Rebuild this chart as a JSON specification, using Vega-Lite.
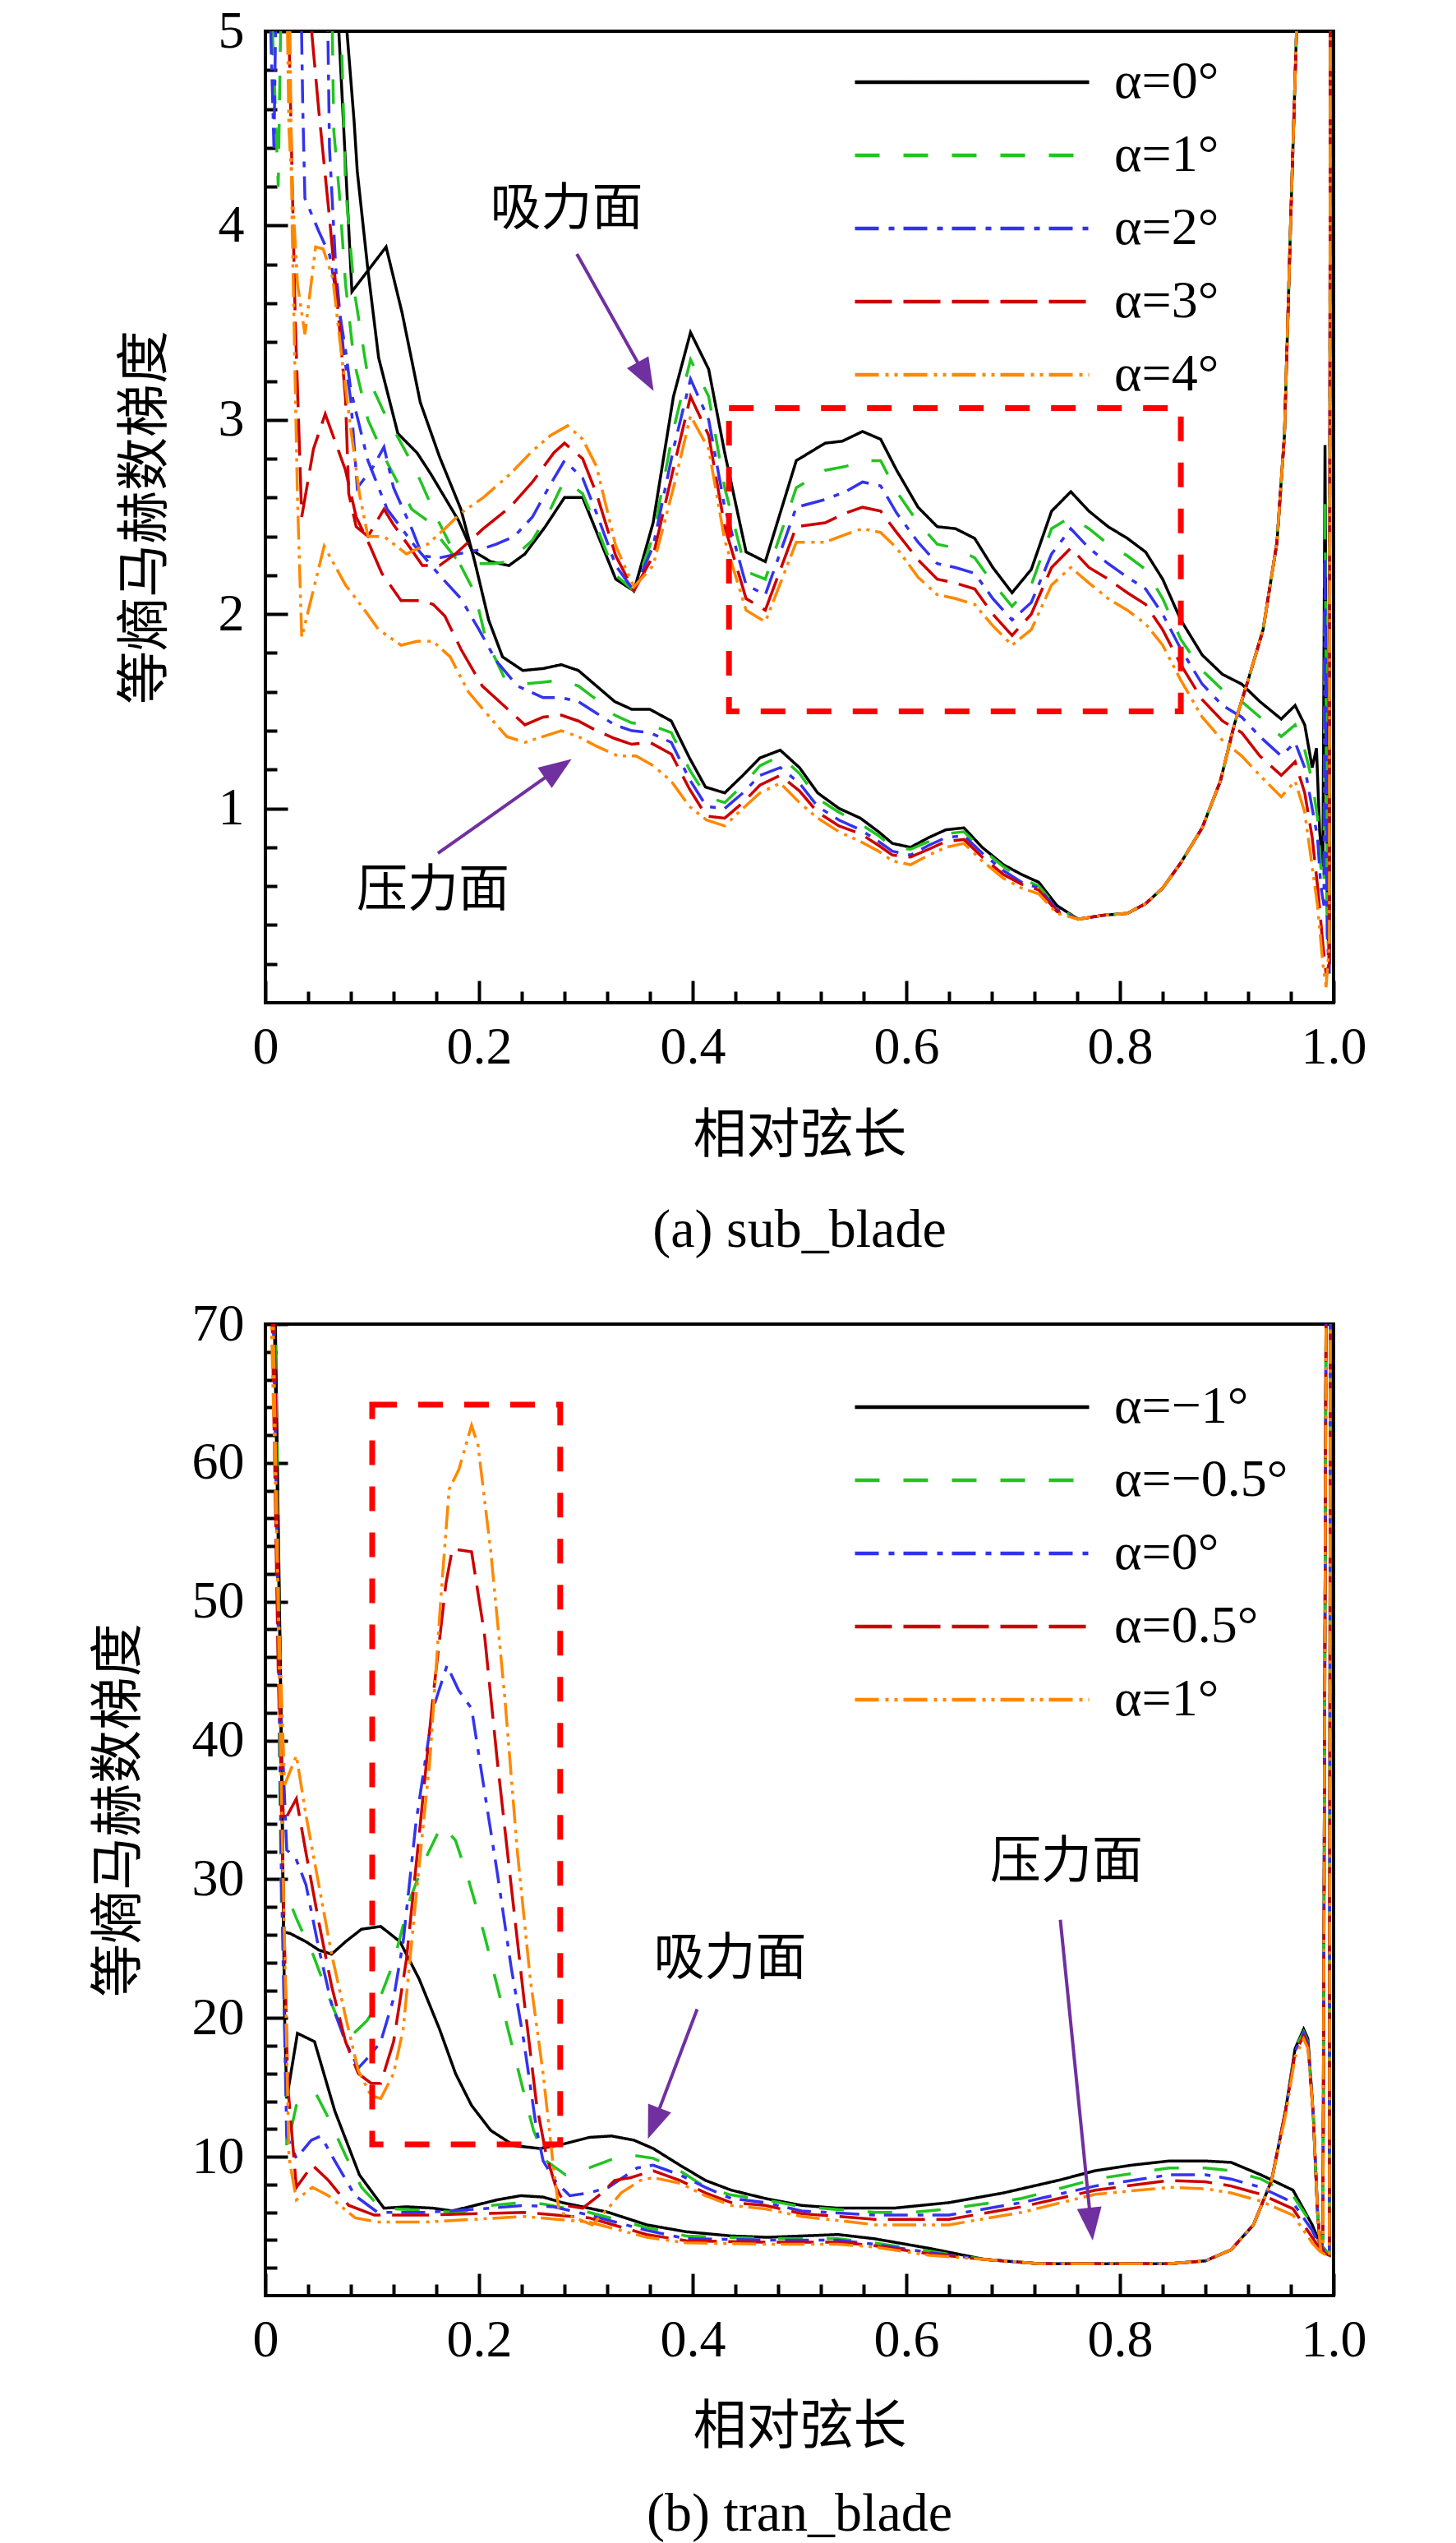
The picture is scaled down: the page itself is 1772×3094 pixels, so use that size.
{
"$schema":"https://vega.github.io/schema/vega-lite/v6.json",
"background":"white",
"padding":{"left":110,"top":4,"right":0,"bottom":0},
"spacing":45,
"config":{
 "view":{"stroke":"black","strokeWidth":4},
 "axis":{"grid":false,"domain":false,"tickColor":"black","tickWidth":4,"labelColor":"black","labelFont":"Liberation Serif","labelFontSize":64,"titleColor":"black","titleFont":"Noto Sans CJK SC","titleFontSize":65,"titleFontWeight":"normal","labelOverlap":false,"labelFlush":false},
 "title":{"font":"Liberation Serif","fontSize":66,"fontWeight":"normal","color":"black","orient":"bottom","offset":52}
},
"resolve":{"scale":{"color":"independent","strokeDash":"independent"},"legend":{"color":"independent","strokeDash":"independent"}},
"datasets":{
"a":[
{"s":"α=0°","f":"S","x":0.072,"y":5.3},{"s":"α=0°","f":"S","x":0.083,"y":4.54},{"s":"α=0°","f":"S","x":0.086,"y":4.28},{"s":"α=0°","f":"S","x":0.096,"y":3.77},{"s":"α=0°","f":"S","x":0.106,"y":3.32},{"s":"α=0°","f":"S","x":0.124,"y":2.93},{"s":"α=0°","f":"S","x":0.142,"y":2.83},{"s":"α=0°","f":"S","x":0.155,"y":2.72},{"s":"α=0°","f":"S","x":0.168,"y":2.6},{"s":"α=0°","f":"S","x":0.181,"y":2.48},{"s":"α=0°","f":"S","x":0.193,"y":2.33},{"s":"α=0°","f":"S","x":0.211,"y":2.27},{"s":"α=0°","f":"S","x":0.228,"y":2.25},{"s":"α=0°","f":"S","x":0.243,"y":2.31},{"s":"α=0°","f":"S","x":0.262,"y":2.45},{"s":"α=0°","f":"S","x":0.28,"y":2.6},{"s":"α=0°","f":"S","x":0.297,"y":2.6},{"s":"α=0°","f":"S","x":0.328,"y":2.18},{"s":"α=0°","f":"S","x":0.345,"y":2.12},{"s":"α=0°","f":"S","x":0.363,"y":2.47},{"s":"α=0°","f":"S","x":0.382,"y":3.12},{"s":"α=0°","f":"S","x":0.398,"y":3.45},{"s":"α=0°","f":"S","x":0.415,"y":3.26},{"s":"α=0°","f":"S","x":0.43,"y":2.83},{"s":"α=0°","f":"S","x":0.45,"y":2.32},{"s":"α=0°","f":"S","x":0.468,"y":2.27},{"s":"α=0°","f":"S","x":0.497,"y":2.79},{"s":"α=0°","f":"S","x":0.506,"y":2.82},{"s":"α=0°","f":"S","x":0.524,"y":2.88},{"s":"α=0°","f":"S","x":0.54,"y":2.89},{"s":"α=0°","f":"S","x":0.559,"y":2.94},{"s":"α=0°","f":"S","x":0.576,"y":2.9},{"s":"α=0°","f":"S","x":0.591,"y":2.74},{"s":"α=0°","f":"S","x":0.611,"y":2.55},{"s":"α=0°","f":"S","x":0.629,"y":2.45},{"s":"α=0°","f":"S","x":0.646,"y":2.44},{"s":"α=0°","f":"S","x":0.664,"y":2.39},{"s":"α=0°","f":"S","x":0.681,"y":2.24},{"s":"α=0°","f":"S","x":0.699,"y":2.11},{"s":"α=0°","f":"S","x":0.717,"y":2.23},{"s":"α=0°","f":"S","x":0.736,"y":2.53},{"s":"α=0°","f":"S","x":0.754,"y":2.63},{"s":"α=0°","f":"S","x":0.771,"y":2.53},{"s":"α=0°","f":"S","x":0.789,"y":2.45},{"s":"α=0°","f":"S","x":0.807,"y":2.39},{"s":"α=0°","f":"S","x":0.824,"y":2.32},{"s":"α=0°","f":"S","x":0.84,"y":2.18},{"s":"α=0°","f":"S","x":0.857,"y":1.97},{"s":"α=0°","f":"S","x":0.877,"y":1.79},{"s":"α=0°","f":"S","x":0.896,"y":1.69},{"s":"α=0°","f":"S","x":0.914,"y":1.64},{"s":"α=0°","f":"S","x":0.931,"y":1.55},{"s":"α=0°","f":"S","x":0.951,"y":1.46},{"s":"α=0°","f":"S","x":0.964,"y":1.53},{"s":"α=0°","f":"S","x":0.973,"y":1.43},{"s":"α=0°","f":"S","x":0.98,"y":1.21},{"s":"α=0°","f":"S","x":0.984,"y":1.31},{"s":"α=0°","f":"S","x":0.987,"y":0.88},{"s":"α=0°","f":"S","x":0.99,"y":0.7},{"s":"α=0°","f":"S","x":0.992,"y":2.87},{"s":"α=0°","f":"S","x":0.994,"y":0.5},{"s":"α=0°","f":"S","x":0.996,"y":0.2},{"s":"α=0°","f":"S","x":0.997,"y":5.3},
{"s":"α=0°","f":"P","x":0.066,"y":5.3},{"s":"α=0°","f":"P","x":0.081,"y":3.66},{"s":"α=0°","f":"P","x":0.113,"y":3.89},{"s":"α=0°","f":"P","x":0.128,"y":3.55},{"s":"α=0°","f":"P","x":0.145,"y":3.09},{"s":"α=0°","f":"P","x":0.163,"y":2.81},{"s":"α=0°","f":"P","x":0.183,"y":2.54},{"s":"α=0°","f":"P","x":0.196,"y":2.27},{"s":"α=0°","f":"P","x":0.209,"y":1.97},{"s":"α=0°","f":"P","x":0.222,"y":1.78},{"s":"α=0°","f":"P","x":0.241,"y":1.71},{"s":"α=0°","f":"P","x":0.26,"y":1.72},{"s":"α=0°","f":"P","x":0.277,"y":1.74},{"s":"α=0°","f":"P","x":0.293,"y":1.71},{"s":"α=0°","f":"P","x":0.31,"y":1.63},{"s":"α=0°","f":"P","x":0.327,"y":1.55},{"s":"α=0°","f":"P","x":0.343,"y":1.51},{"s":"α=0°","f":"P","x":0.36,"y":1.51},{"s":"α=0°","f":"P","x":0.38,"y":1.45},{"s":"α=0°","f":"P","x":0.397,"y":1.26},{"s":"α=0°","f":"P","x":0.412,"y":1.11},{"s":"α=0°","f":"P","x":0.43,"y":1.08},{"s":"α=0°","f":"P","x":0.447,"y":1.17},{"s":"α=0°","f":"P","x":0.463,"y":1.26},{"s":"α=0°","f":"P","x":0.482,"y":1.3},{"s":"α=0°","f":"P","x":0.5,"y":1.21},{"s":"α=0°","f":"P","x":0.517,"y":1.08},{"s":"α=0°","f":"P","x":0.537,"y":1.0},{"s":"α=0°","f":"P","x":0.557,"y":0.95},{"s":"α=0°","f":"P","x":0.574,"y":0.88},{"s":"α=0°","f":"P","x":0.587,"y":0.82},{"s":"α=0°","f":"P","x":0.604,"y":0.8},{"s":"α=0°","f":"P","x":0.621,"y":0.85},{"s":"α=0°","f":"P","x":0.637,"y":0.89},{"s":"α=0°","f":"P","x":0.654,"y":0.9},{"s":"α=0°","f":"P","x":0.671,"y":0.8},{"s":"α=0°","f":"P","x":0.691,"y":0.71},{"s":"α=0°","f":"P","x":0.708,"y":0.66},{"s":"α=0°","f":"P","x":0.724,"y":0.62},{"s":"α=0°","f":"P","x":0.741,"y":0.5},{"s":"α=0°","f":"P","x":0.761,"y":0.43},{"s":"α=0°","f":"P","x":0.784,"y":0.45},{"s":"α=0°","f":"P","x":0.807,"y":0.46},{"s":"α=0°","f":"P","x":0.824,"y":0.51},{"s":"α=0°","f":"P","x":0.84,"y":0.59},{"s":"α=0°","f":"P","x":0.857,"y":0.72},{"s":"α=0°","f":"P","x":0.877,"y":0.9},{"s":"α=0°","f":"P","x":0.894,"y":1.14},{"s":"α=0°","f":"P","x":0.907,"y":1.43},{"s":"α=0°","f":"P","x":0.92,"y":1.66},{"s":"α=0°","f":"P","x":0.934,"y":1.92},{"s":"α=0°","f":"P","x":0.947,"y":2.37},{"s":"α=0°","f":"P","x":0.954,"y":2.92},{"s":"α=0°","f":"P","x":0.96,"y":4.05},{"s":"α=0°","f":"P","x":0.967,"y":5.3},
{"s":"α=1°","f":"S","x":0.06,"y":6},{"s":"α=1°","f":"S","x":0.064,"y":4.49},{"s":"α=1°","f":"S","x":0.069,"y":4.18},{"s":"α=1°","f":"S","x":0.075,"y":3.7},{"s":"α=1°","f":"S","x":0.083,"y":3.3},{"s":"α=1°","f":"S","x":0.096,"y":3.0},{"s":"α=1°","f":"S","x":0.114,"y":2.78},{"s":"α=1°","f":"S","x":0.137,"y":2.54},{"s":"α=1°","f":"S","x":0.152,"y":2.48},{"s":"α=1°","f":"S","x":0.165,"y":2.38},{"s":"α=1°","f":"S","x":0.178,"y":2.29},{"s":"α=1°","f":"S","x":0.2,"y":2.26},{"s":"α=1°","f":"S","x":0.213,"y":2.26},{"s":"α=1°","f":"S","x":0.228,"y":2.27},{"s":"α=1°","f":"S","x":0.25,"y":2.38},{"s":"α=1°","f":"S","x":0.265,"y":2.52},{"s":"α=1°","f":"S","x":0.28,"y":2.69},{"s":"α=1°","f":"S","x":0.297,"y":2.62},{"s":"α=1°","f":"S","x":0.31,"y":2.45},{"s":"α=1°","f":"S","x":0.328,"y":2.2},{"s":"α=1°","f":"S","x":0.345,"y":2.12},{"s":"α=1°","f":"S","x":0.363,"y":2.4},{"s":"α=1°","f":"S","x":0.382,"y":2.95},{"s":"α=1°","f":"S","x":0.398,"y":3.31},{"s":"α=1°","f":"S","x":0.415,"y":3.12},{"s":"α=1°","f":"S","x":0.43,"y":2.65},{"s":"α=1°","f":"S","x":0.45,"y":2.22},{"s":"α=1°","f":"S","x":0.468,"y":2.18},{"s":"α=1°","f":"S","x":0.497,"y":2.65},{"s":"α=1°","f":"S","x":0.524,"y":2.74},{"s":"α=1°","f":"S","x":0.543,"y":2.76},{"s":"α=1°","f":"S","x":0.559,"y":2.79},{"s":"α=1°","f":"S","x":0.576,"y":2.79},{"s":"α=1°","f":"S","x":0.591,"y":2.63},{"s":"α=1°","f":"S","x":0.611,"y":2.47},{"s":"α=1°","f":"S","x":0.629,"y":2.36},{"s":"α=1°","f":"S","x":0.646,"y":2.34},{"s":"α=1°","f":"S","x":0.664,"y":2.29},{"s":"α=1°","f":"S","x":0.681,"y":2.16},{"s":"α=1°","f":"S","x":0.699,"y":2.04},{"s":"α=1°","f":"S","x":0.717,"y":2.15},{"s":"α=1°","f":"S","x":0.736,"y":2.44},{"s":"α=1°","f":"S","x":0.754,"y":2.5},{"s":"α=1°","f":"S","x":0.771,"y":2.44},{"s":"α=1°","f":"S","x":0.789,"y":2.36},{"s":"α=1°","f":"S","x":0.807,"y":2.3},{"s":"α=1°","f":"S","x":0.824,"y":2.23},{"s":"α=1°","f":"S","x":0.84,"y":2.08},{"s":"α=1°","f":"S","x":0.857,"y":1.87},{"s":"α=1°","f":"S","x":0.877,"y":1.71},{"s":"α=1°","f":"S","x":0.896,"y":1.61},{"s":"α=1°","f":"S","x":0.914,"y":1.55},{"s":"α=1°","f":"S","x":0.931,"y":1.47},{"s":"α=1°","f":"S","x":0.951,"y":1.37},{"s":"α=1°","f":"S","x":0.964,"y":1.43},{"s":"α=1°","f":"S","x":0.973,"y":1.3},{"s":"α=1°","f":"S","x":0.98,"y":1.14},{"s":"α=1°","f":"S","x":0.985,"y":0.95},{"s":"α=1°","f":"S","x":0.988,"y":0.7},{"s":"α=1°","f":"S","x":0.991,"y":0.6},{"s":"α=1°","f":"S","x":0.992,"y":2.6},{"s":"α=1°","f":"S","x":0.994,"y":0.4},{"s":"α=1°","f":"S","x":0.996,"y":0.2},{"s":"α=1°","f":"S","x":0.997,"y":5.3},
{"s":"α=1°","f":"P","x":0.0,"y":6},{"s":"α=1°","f":"P","x":0.012,"y":4.2},{"s":"α=1°","f":"P","x":0.017,"y":6},{"s":"α=1°","f":"P","x":0.066,"y":6},{"s":"α=1°","f":"P","x":0.075,"y":4.2},{"s":"α=1°","f":"P","x":0.083,"y":3.67},{"s":"α=1°","f":"P","x":0.096,"y":3.22},{"s":"α=1°","f":"P","x":0.11,"y":3.05},{"s":"α=1°","f":"P","x":0.125,"y":2.9},{"s":"α=1°","f":"P","x":0.14,"y":2.75},{"s":"α=1°","f":"P","x":0.16,"y":2.5},{"s":"α=1°","f":"P","x":0.18,"y":2.28},{"s":"α=1°","f":"P","x":0.196,"y":2.11},{"s":"α=1°","f":"P","x":0.206,"y":1.88},{"s":"α=1°","f":"P","x":0.223,"y":1.68},{"s":"α=1°","f":"P","x":0.24,"y":1.64},{"s":"α=1°","f":"P","x":0.26,"y":1.65},{"s":"α=1°","f":"P","x":0.277,"y":1.66},{"s":"α=1°","f":"P","x":0.293,"y":1.63},{"s":"α=1°","f":"P","x":0.31,"y":1.56},{"s":"α=1°","f":"P","x":0.327,"y":1.48},{"s":"α=1°","f":"P","x":0.343,"y":1.44},{"s":"α=1°","f":"P","x":0.36,"y":1.43},{"s":"α=1°","f":"P","x":0.38,"y":1.39},{"s":"α=1°","f":"P","x":0.397,"y":1.2},{"s":"α=1°","f":"P","x":0.413,"y":1.06},{"s":"α=1°","f":"P","x":0.43,"y":1.03},{"s":"α=1°","f":"P","x":0.447,"y":1.12},{"s":"α=1°","f":"P","x":0.463,"y":1.22},{"s":"α=1°","f":"P","x":0.482,"y":1.27},{"s":"α=1°","f":"P","x":0.5,"y":1.18},{"s":"α=1°","f":"P","x":0.517,"y":1.05},{"s":"α=1°","f":"P","x":0.537,"y":0.98},{"s":"α=1°","f":"P","x":0.557,"y":0.92},{"s":"α=1°","f":"P","x":0.574,"y":0.86},{"s":"α=1°","f":"P","x":0.587,"y":0.8},{"s":"α=1°","f":"P","x":0.604,"y":0.79},{"s":"α=1°","f":"P","x":0.621,"y":0.83},{"s":"α=1°","f":"P","x":0.637,"y":0.87},{"s":"α=1°","f":"P","x":0.654,"y":0.88},{"s":"α=1°","f":"P","x":0.671,"y":0.79},{"s":"α=1°","f":"P","x":0.691,"y":0.7},{"s":"α=1°","f":"P","x":0.708,"y":0.64},{"s":"α=1°","f":"P","x":0.724,"y":0.6},{"s":"α=1°","f":"P","x":0.741,"y":0.49},{"s":"α=1°","f":"P","x":0.761,"y":0.43},{"s":"α=1°","f":"P","x":0.784,"y":0.45},{"s":"α=1°","f":"P","x":0.807,"y":0.46},{"s":"α=1°","f":"P","x":0.824,"y":0.51},{"s":"α=1°","f":"P","x":0.84,"y":0.59},{"s":"α=1°","f":"P","x":0.857,"y":0.72},{"s":"α=1°","f":"P","x":0.877,"y":0.9},{"s":"α=1°","f":"P","x":0.894,"y":1.14},{"s":"α=1°","f":"P","x":0.907,"y":1.43},{"s":"α=1°","f":"P","x":0.92,"y":1.66},{"s":"α=1°","f":"P","x":0.934,"y":1.92},{"s":"α=1°","f":"P","x":0.947,"y":2.37},{"s":"α=1°","f":"P","x":0.954,"y":2.92},{"s":"α=1°","f":"P","x":0.96,"y":4.05},{"s":"α=1°","f":"P","x":0.967,"y":5.3},
{"s":"α=2°","f":"S","x":0.0,"y":6},{"s":"α=2°","f":"S","x":0.008,"y":4.4},{"s":"α=2°","f":"S","x":0.012,"y":6},{"s":"α=2°","f":"S","x":0.056,"y":6},{"s":"α=2°","f":"S","x":0.06,"y":4.4},{"s":"α=2°","f":"S","x":0.066,"y":3.77},{"s":"α=2°","f":"S","x":0.073,"y":3.36},{"s":"α=2°","f":"S","x":0.08,"y":3.1},{"s":"α=2°","f":"S","x":0.086,"y":2.65},{"s":"α=2°","f":"S","x":0.1,"y":2.75},{"s":"α=2°","f":"S","x":0.111,"y":2.86},{"s":"α=2°","f":"S","x":0.12,"y":2.65},{"s":"α=2°","f":"S","x":0.137,"y":2.44},{"s":"α=2°","f":"S","x":0.147,"y":2.3},{"s":"α=2°","f":"S","x":0.163,"y":2.29},{"s":"α=2°","f":"S","x":0.18,"y":2.31},{"s":"α=2°","f":"S","x":0.2,"y":2.33},{"s":"α=2°","f":"S","x":0.216,"y":2.36},{"s":"α=2°","f":"S","x":0.233,"y":2.4},{"s":"α=2°","f":"S","x":0.25,"y":2.5},{"s":"α=2°","f":"S","x":0.265,"y":2.65},{"s":"α=2°","f":"S","x":0.28,"y":2.79},{"s":"α=2°","f":"S","x":0.297,"y":2.7},{"s":"α=2°","f":"S","x":0.31,"y":2.52},{"s":"α=2°","f":"S","x":0.328,"y":2.25},{"s":"α=2°","f":"S","x":0.345,"y":2.12},{"s":"α=2°","f":"S","x":0.363,"y":2.35},{"s":"α=2°","f":"S","x":0.382,"y":2.85},{"s":"α=2°","f":"S","x":0.398,"y":3.21},{"s":"α=2°","f":"S","x":0.415,"y":3.0},{"s":"α=2°","f":"S","x":0.43,"y":2.55},{"s":"α=2°","f":"S","x":0.45,"y":2.15},{"s":"α=2°","f":"S","x":0.468,"y":2.1},{"s":"α=2°","f":"S","x":0.497,"y":2.55},{"s":"α=2°","f":"S","x":0.524,"y":2.59},{"s":"α=2°","f":"S","x":0.543,"y":2.63},{"s":"α=2°","f":"S","x":0.559,"y":2.68},{"s":"α=2°","f":"S","x":0.576,"y":2.66},{"s":"α=2°","f":"S","x":0.591,"y":2.52},{"s":"α=2°","f":"S","x":0.611,"y":2.37},{"s":"α=2°","f":"S","x":0.629,"y":2.26},{"s":"α=2°","f":"S","x":0.646,"y":2.24},{"s":"α=2°","f":"S","x":0.664,"y":2.21},{"s":"α=2°","f":"S","x":0.681,"y":2.08},{"s":"α=2°","f":"S","x":0.699,"y":1.97},{"s":"α=2°","f":"S","x":0.717,"y":2.06},{"s":"α=2°","f":"S","x":0.736,"y":2.31},{"s":"α=2°","f":"S","x":0.754,"y":2.44},{"s":"α=2°","f":"S","x":0.771,"y":2.34},{"s":"α=2°","f":"S","x":0.789,"y":2.26},{"s":"α=2°","f":"S","x":0.807,"y":2.19},{"s":"α=2°","f":"S","x":0.824,"y":2.13},{"s":"α=2°","f":"S","x":0.84,"y":2.0},{"s":"α=2°","f":"S","x":0.857,"y":1.82},{"s":"α=2°","f":"S","x":0.877,"y":1.64},{"s":"α=2°","f":"S","x":0.896,"y":1.53},{"s":"α=2°","f":"S","x":0.914,"y":1.47},{"s":"α=2°","f":"S","x":0.931,"y":1.37},{"s":"α=2°","f":"S","x":0.951,"y":1.27},{"s":"α=2°","f":"S","x":0.964,"y":1.34},{"s":"α=2°","f":"S","x":0.973,"y":1.21},{"s":"α=2°","f":"S","x":0.98,"y":1.0},{"s":"α=2°","f":"S","x":0.985,"y":0.85},{"s":"α=2°","f":"S","x":0.988,"y":0.6},{"s":"α=2°","f":"S","x":0.991,"y":0.5},{"s":"α=2°","f":"S","x":0.992,"y":2.3},{"s":"α=2°","f":"S","x":0.994,"y":0.35},{"s":"α=2°","f":"S","x":0.996,"y":0.15},{"s":"α=2°","f":"S","x":0.997,"y":5.3},
{"s":"α=2°","f":"P","x":0.031,"y":6},{"s":"α=2°","f":"P","x":0.035,"y":4.6},{"s":"α=2°","f":"P","x":0.037,"y":4.14},{"s":"α=2°","f":"P","x":0.05,"y":3.97},{"s":"α=2°","f":"P","x":0.06,"y":3.85},{"s":"α=2°","f":"P","x":0.068,"y":3.6},{"s":"α=2°","f":"P","x":0.075,"y":3.36},{"s":"α=2°","f":"P","x":0.08,"y":3.15},{"s":"α=2°","f":"P","x":0.096,"y":2.79},{"s":"α=2°","f":"P","x":0.114,"y":2.54},{"s":"α=2°","f":"P","x":0.14,"y":2.35},{"s":"α=2°","f":"P","x":0.163,"y":2.2},{"s":"α=2°","f":"P","x":0.183,"y":2.08},{"s":"α=2°","f":"P","x":0.2,"y":1.92},{"s":"α=2°","f":"P","x":0.216,"y":1.76},{"s":"α=2°","f":"P","x":0.236,"y":1.63},{"s":"α=2°","f":"P","x":0.26,"y":1.57},{"s":"α=2°","f":"P","x":0.277,"y":1.57},{"s":"α=2°","f":"P","x":0.293,"y":1.55},{"s":"α=2°","f":"P","x":0.31,"y":1.49},{"s":"α=2°","f":"P","x":0.327,"y":1.43},{"s":"α=2°","f":"P","x":0.343,"y":1.4},{"s":"α=2°","f":"P","x":0.36,"y":1.39},{"s":"α=2°","f":"P","x":0.38,"y":1.34},{"s":"α=2°","f":"P","x":0.397,"y":1.15},{"s":"α=2°","f":"P","x":0.413,"y":1.01},{"s":"α=2°","f":"P","x":0.43,"y":1.0},{"s":"α=2°","f":"P","x":0.447,"y":1.08},{"s":"α=2°","f":"P","x":0.463,"y":1.17},{"s":"α=2°","f":"P","x":0.482,"y":1.21},{"s":"α=2°","f":"P","x":0.5,"y":1.13},{"s":"α=2°","f":"P","x":0.517,"y":1.01},{"s":"α=2°","f":"P","x":0.537,"y":0.94},{"s":"α=2°","f":"P","x":0.557,"y":0.89},{"s":"α=2°","f":"P","x":0.574,"y":0.83},{"s":"α=2°","f":"P","x":0.587,"y":0.78},{"s":"α=2°","f":"P","x":0.604,"y":0.76},{"s":"α=2°","f":"P","x":0.621,"y":0.81},{"s":"α=2°","f":"P","x":0.637,"y":0.85},{"s":"α=2°","f":"P","x":0.654,"y":0.86},{"s":"α=2°","f":"P","x":0.671,"y":0.77},{"s":"α=2°","f":"P","x":0.691,"y":0.68},{"s":"α=2°","f":"P","x":0.708,"y":0.62},{"s":"α=2°","f":"P","x":0.724,"y":0.59},{"s":"α=2°","f":"P","x":0.741,"y":0.48},{"s":"α=2°","f":"P","x":0.761,"y":0.43},{"s":"α=2°","f":"P","x":0.784,"y":0.45},{"s":"α=2°","f":"P","x":0.807,"y":0.46},{"s":"α=2°","f":"P","x":0.824,"y":0.51},{"s":"α=2°","f":"P","x":0.84,"y":0.59},{"s":"α=2°","f":"P","x":0.857,"y":0.72},{"s":"α=2°","f":"P","x":0.877,"y":0.9},{"s":"α=2°","f":"P","x":0.894,"y":1.14},{"s":"α=2°","f":"P","x":0.907,"y":1.43},{"s":"α=2°","f":"P","x":0.92,"y":1.66},{"s":"α=2°","f":"P","x":0.934,"y":1.92},{"s":"α=2°","f":"P","x":0.947,"y":2.37},{"s":"α=2°","f":"P","x":0.954,"y":2.92},{"s":"α=2°","f":"P","x":0.96,"y":4.05},{"s":"α=2°","f":"P","x":0.967,"y":5.3},
{"s":"α=3°","f":"S","x":0.037,"y":6},{"s":"α=3°","f":"S","x":0.04,"y":5.2},{"s":"α=3°","f":"S","x":0.05,"y":4.59},{"s":"α=3°","f":"S","x":0.06,"y":4.04},{"s":"α=3°","f":"S","x":0.068,"y":3.56},{"s":"α=3°","f":"S","x":0.075,"y":3.11},{"s":"α=3°","f":"S","x":0.078,"y":2.62},{"s":"α=3°","f":"S","x":0.085,"y":2.45},{"s":"α=3°","f":"S","x":0.096,"y":2.4},{"s":"α=3°","f":"S","x":0.111,"y":2.54},{"s":"α=3°","f":"S","x":0.12,"y":2.46},{"s":"α=3°","f":"S","x":0.137,"y":2.33},{"s":"α=3°","f":"S","x":0.147,"y":2.25},{"s":"α=3°","f":"S","x":0.163,"y":2.25},{"s":"α=3°","f":"S","x":0.178,"y":2.31},{"s":"α=3°","f":"S","x":0.204,"y":2.44},{"s":"α=3°","f":"S","x":0.229,"y":2.55},{"s":"α=3°","f":"S","x":0.25,"y":2.68},{"s":"α=3°","f":"S","x":0.27,"y":2.83},{"s":"α=3°","f":"S","x":0.28,"y":2.88},{"s":"α=3°","f":"S","x":0.297,"y":2.8},{"s":"α=3°","f":"S","x":0.31,"y":2.62},{"s":"α=3°","f":"S","x":0.328,"y":2.3},{"s":"α=3°","f":"S","x":0.345,"y":2.12},{"s":"α=3°","f":"S","x":0.363,"y":2.3},{"s":"α=3°","f":"S","x":0.382,"y":2.75},{"s":"α=3°","f":"S","x":0.398,"y":3.12},{"s":"α=3°","f":"S","x":0.415,"y":2.92},{"s":"α=3°","f":"S","x":0.43,"y":2.45},{"s":"α=3°","f":"S","x":0.45,"y":2.08},{"s":"α=3°","f":"S","x":0.468,"y":2.02},{"s":"α=3°","f":"S","x":0.497,"y":2.45},{"s":"α=3°","f":"S","x":0.524,"y":2.47},{"s":"α=3°","f":"S","x":0.543,"y":2.52},{"s":"α=3°","f":"S","x":0.559,"y":2.55},{"s":"α=3°","f":"S","x":0.576,"y":2.53},{"s":"α=3°","f":"S","x":0.591,"y":2.42},{"s":"α=3°","f":"S","x":0.611,"y":2.28},{"s":"α=3°","f":"S","x":0.629,"y":2.18},{"s":"α=3°","f":"S","x":0.646,"y":2.16},{"s":"α=3°","f":"S","x":0.664,"y":2.13},{"s":"α=3°","f":"S","x":0.681,"y":2.0},{"s":"α=3°","f":"S","x":0.699,"y":1.89},{"s":"α=3°","f":"S","x":0.717,"y":2.0},{"s":"α=3°","f":"S","x":0.736,"y":2.24},{"s":"α=3°","f":"S","x":0.754,"y":2.34},{"s":"α=3°","f":"S","x":0.771,"y":2.24},{"s":"α=3°","f":"S","x":0.789,"y":2.18},{"s":"α=3°","f":"S","x":0.807,"y":2.11},{"s":"α=3°","f":"S","x":0.824,"y":2.05},{"s":"α=3°","f":"S","x":0.84,"y":1.92},{"s":"α=3°","f":"S","x":0.857,"y":1.74},{"s":"α=3°","f":"S","x":0.877,"y":1.56},{"s":"α=3°","f":"S","x":0.896,"y":1.45},{"s":"α=3°","f":"S","x":0.914,"y":1.39},{"s":"α=3°","f":"S","x":0.931,"y":1.27},{"s":"α=3°","f":"S","x":0.951,"y":1.17},{"s":"α=3°","f":"S","x":0.964,"y":1.24},{"s":"α=3°","f":"S","x":0.973,"y":1.08},{"s":"α=3°","f":"S","x":0.98,"y":0.85},{"s":"α=3°","f":"S","x":0.985,"y":0.6},{"s":"α=3°","f":"S","x":0.99,"y":0.3},{"s":"α=3°","f":"S","x":0.993,"y":0.15},{"s":"α=3°","f":"S","x":0.996,"y":0.2},{"s":"α=3°","f":"S","x":0.997,"y":5.3},
{"s":"α=3°","f":"P","x":0.019,"y":6},{"s":"α=3°","f":"P","x":0.022,"y":5.0},{"s":"α=3°","f":"P","x":0.028,"y":3.5},{"s":"α=3°","f":"P","x":0.034,"y":2.5},{"s":"α=3°","f":"P","x":0.045,"y":2.85},{"s":"α=3°","f":"P","x":0.056,"y":3.03},{"s":"α=3°","f":"P","x":0.075,"y":2.74},{"s":"α=3°","f":"P","x":0.085,"y":2.5},{"s":"α=3°","f":"P","x":0.098,"y":2.35},{"s":"α=3°","f":"P","x":0.109,"y":2.21},{"s":"α=3°","f":"P","x":0.127,"y":2.07},{"s":"α=3°","f":"P","x":0.145,"y":2.07},{"s":"α=3°","f":"P","x":0.157,"y":2.05},{"s":"α=3°","f":"P","x":0.168,"y":1.99},{"s":"α=3°","f":"P","x":0.183,"y":1.82},{"s":"α=3°","f":"P","x":0.203,"y":1.63},{"s":"α=3°","f":"P","x":0.223,"y":1.53},{"s":"α=3°","f":"P","x":0.243,"y":1.43},{"s":"α=3°","f":"P","x":0.26,"y":1.47},{"s":"α=3°","f":"P","x":0.277,"y":1.48},{"s":"α=3°","f":"P","x":0.293,"y":1.45},{"s":"α=3°","f":"P","x":0.31,"y":1.4},{"s":"α=3°","f":"P","x":0.327,"y":1.36},{"s":"α=3°","f":"P","x":0.343,"y":1.33},{"s":"α=3°","f":"P","x":0.36,"y":1.34},{"s":"α=3°","f":"P","x":0.38,"y":1.28},{"s":"α=3°","f":"P","x":0.397,"y":1.1},{"s":"α=3°","f":"P","x":0.413,"y":0.96},{"s":"α=3°","f":"P","x":0.43,"y":0.95},{"s":"α=3°","f":"P","x":0.447,"y":1.03},{"s":"α=3°","f":"P","x":0.463,"y":1.12},{"s":"α=3°","f":"P","x":0.482,"y":1.17},{"s":"α=3°","f":"P","x":0.5,"y":1.09},{"s":"α=3°","f":"P","x":0.517,"y":0.98},{"s":"α=3°","f":"P","x":0.537,"y":0.91},{"s":"α=3°","f":"P","x":0.557,"y":0.87},{"s":"α=3°","f":"P","x":0.574,"y":0.81},{"s":"α=3°","f":"P","x":0.587,"y":0.76},{"s":"α=3°","f":"P","x":0.604,"y":0.75},{"s":"α=3°","f":"P","x":0.621,"y":0.79},{"s":"α=3°","f":"P","x":0.637,"y":0.83},{"s":"α=3°","f":"P","x":0.654,"y":0.84},{"s":"α=3°","f":"P","x":0.671,"y":0.75},{"s":"α=3°","f":"P","x":0.691,"y":0.66},{"s":"α=3°","f":"P","x":0.708,"y":0.61},{"s":"α=3°","f":"P","x":0.724,"y":0.58},{"s":"α=3°","f":"P","x":0.741,"y":0.47},{"s":"α=3°","f":"P","x":0.761,"y":0.43},{"s":"α=3°","f":"P","x":0.784,"y":0.45},{"s":"α=3°","f":"P","x":0.807,"y":0.46},{"s":"α=3°","f":"P","x":0.824,"y":0.51},{"s":"α=3°","f":"P","x":0.84,"y":0.59},{"s":"α=3°","f":"P","x":0.857,"y":0.72},{"s":"α=3°","f":"P","x":0.877,"y":0.9},{"s":"α=3°","f":"P","x":0.894,"y":1.14},{"s":"α=3°","f":"P","x":0.907,"y":1.43},{"s":"α=3°","f":"P","x":0.92,"y":1.66},{"s":"α=3°","f":"P","x":0.934,"y":1.92},{"s":"α=3°","f":"P","x":0.947,"y":2.37},{"s":"α=3°","f":"P","x":0.954,"y":2.92},{"s":"α=3°","f":"P","x":0.96,"y":4.05},{"s":"α=3°","f":"P","x":0.967,"y":5.3},
{"s":"α=4°","f":"S","x":0.018,"y":6},{"s":"α=4°","f":"S","x":0.022,"y":4.5},{"s":"α=4°","f":"S","x":0.03,"y":3.7},{"s":"α=4°","f":"S","x":0.037,"y":3.44},{"s":"α=4°","f":"S","x":0.047,"y":3.89},{"s":"α=4°","f":"S","x":0.054,"y":3.88},{"s":"α=4°","f":"S","x":0.063,"y":3.73},{"s":"α=4°","f":"S","x":0.072,"y":3.3},{"s":"α=4°","f":"S","x":0.08,"y":2.95},{"s":"α=4°","f":"S","x":0.088,"y":2.62},{"s":"α=4°","f":"S","x":0.096,"y":2.4},{"s":"α=4°","f":"S","x":0.111,"y":2.4},{"s":"α=4°","f":"S","x":0.132,"y":2.31},{"s":"α=4°","f":"S","x":0.152,"y":2.36},{"s":"α=4°","f":"S","x":0.168,"y":2.44},{"s":"α=4°","f":"S","x":0.183,"y":2.52},{"s":"α=4°","f":"S","x":0.204,"y":2.6},{"s":"α=4°","f":"S","x":0.229,"y":2.72},{"s":"α=4°","f":"S","x":0.25,"y":2.84},{"s":"α=4°","f":"S","x":0.267,"y":2.92},{"s":"α=4°","f":"S","x":0.283,"y":2.97},{"s":"α=4°","f":"S","x":0.297,"y":2.9},{"s":"α=4°","f":"S","x":0.31,"y":2.76},{"s":"α=4°","f":"S","x":0.328,"y":2.35},{"s":"α=4°","f":"S","x":0.345,"y":2.14},{"s":"α=4°","f":"S","x":0.363,"y":2.25},{"s":"α=4°","f":"S","x":0.382,"y":2.65},{"s":"α=4°","f":"S","x":0.398,"y":3.02},{"s":"α=4°","f":"S","x":0.415,"y":2.85},{"s":"α=4°","f":"S","x":0.43,"y":2.38},{"s":"α=4°","f":"S","x":0.45,"y":2.02},{"s":"α=4°","f":"S","x":0.468,"y":1.96},{"s":"α=4°","f":"S","x":0.497,"y":2.37},{"s":"α=4°","f":"S","x":0.524,"y":2.37},{"s":"α=4°","f":"S","x":0.543,"y":2.41},{"s":"α=4°","f":"S","x":0.559,"y":2.44},{"s":"α=4°","f":"S","x":0.576,"y":2.42},{"s":"α=4°","f":"S","x":0.591,"y":2.34},{"s":"α=4°","f":"S","x":0.611,"y":2.19},{"s":"α=4°","f":"S","x":0.629,"y":2.1},{"s":"α=4°","f":"S","x":0.646,"y":2.08},{"s":"α=4°","f":"S","x":0.664,"y":2.05},{"s":"α=4°","f":"S","x":0.681,"y":1.94},{"s":"α=4°","f":"S","x":0.699,"y":1.84},{"s":"α=4°","f":"S","x":0.717,"y":1.92},{"s":"α=4°","f":"S","x":0.736,"y":2.15},{"s":"α=4°","f":"S","x":0.754,"y":2.24},{"s":"α=4°","f":"S","x":0.771,"y":2.16},{"s":"α=4°","f":"S","x":0.789,"y":2.08},{"s":"α=4°","f":"S","x":0.807,"y":2.02},{"s":"α=4°","f":"S","x":0.824,"y":1.95},{"s":"α=4°","f":"S","x":0.84,"y":1.84},{"s":"α=4°","f":"S","x":0.857,"y":1.66},{"s":"α=4°","f":"S","x":0.877,"y":1.47},{"s":"α=4°","f":"S","x":0.896,"y":1.35},{"s":"α=4°","f":"S","x":0.914,"y":1.27},{"s":"α=4°","f":"S","x":0.931,"y":1.17},{"s":"α=4°","f":"S","x":0.951,"y":1.06},{"s":"α=4°","f":"S","x":0.964,"y":1.14},{"s":"α=4°","f":"S","x":0.973,"y":0.98},{"s":"α=4°","f":"S","x":0.98,"y":0.7},{"s":"α=4°","f":"S","x":0.985,"y":0.5},{"s":"α=4°","f":"S","x":0.99,"y":0.2},{"s":"α=4°","f":"S","x":0.993,"y":0.08},{"s":"α=4°","f":"S","x":0.996,"y":0.3},{"s":"α=4°","f":"S","x":0.997,"y":5.3},
{"s":"α=4°","f":"P","x":0.021,"y":6},{"s":"α=4°","f":"P","x":0.025,"y":4.0},{"s":"α=4°","f":"P","x":0.03,"y":2.6},{"s":"α=4°","f":"P","x":0.034,"y":1.88},{"s":"α=4°","f":"P","x":0.055,"y":2.35},{"s":"α=4°","f":"P","x":0.075,"y":2.15},{"s":"α=4°","f":"P","x":0.093,"y":2.02},{"s":"α=4°","f":"P","x":0.106,"y":1.92},{"s":"α=4°","f":"P","x":0.127,"y":1.84},{"s":"α=4°","f":"P","x":0.142,"y":1.86},{"s":"α=4°","f":"P","x":0.157,"y":1.86},{"s":"α=4°","f":"P","x":0.173,"y":1.78},{"s":"α=4°","f":"P","x":0.19,"y":1.6},{"s":"α=4°","f":"P","x":0.21,"y":1.47},{"s":"α=4°","f":"P","x":0.226,"y":1.37},{"s":"α=4°","f":"P","x":0.243,"y":1.34},{"s":"α=4°","f":"P","x":0.26,"y":1.37},{"s":"α=4°","f":"P","x":0.277,"y":1.4},{"s":"α=4°","f":"P","x":0.293,"y":1.37},{"s":"α=4°","f":"P","x":0.31,"y":1.32},{"s":"α=4°","f":"P","x":0.33,"y":1.27},{"s":"α=4°","f":"P","x":0.347,"y":1.27},{"s":"α=4°","f":"P","x":0.363,"y":1.22},{"s":"α=4°","f":"P","x":0.38,"y":1.14},{"s":"α=4°","f":"P","x":0.397,"y":1.01},{"s":"α=4°","f":"P","x":0.413,"y":0.94},{"s":"α=4°","f":"P","x":0.43,"y":0.91},{"s":"α=4°","f":"P","x":0.447,"y":1.0},{"s":"α=4°","f":"P","x":0.463,"y":1.08},{"s":"α=4°","f":"P","x":0.482,"y":1.13},{"s":"α=4°","f":"P","x":0.5,"y":1.03},{"s":"α=4°","f":"P","x":0.517,"y":0.95},{"s":"α=4°","f":"P","x":0.537,"y":0.88},{"s":"α=4°","f":"P","x":0.557,"y":0.83},{"s":"α=4°","f":"P","x":0.574,"y":0.78},{"s":"α=4°","f":"P","x":0.587,"y":0.73},{"s":"α=4°","f":"P","x":0.604,"y":0.71},{"s":"α=4°","f":"P","x":0.621,"y":0.76},{"s":"α=4°","f":"P","x":0.637,"y":0.8},{"s":"α=4°","f":"P","x":0.654,"y":0.82},{"s":"α=4°","f":"P","x":0.671,"y":0.73},{"s":"α=4°","f":"P","x":0.691,"y":0.64},{"s":"α=4°","f":"P","x":0.708,"y":0.59},{"s":"α=4°","f":"P","x":0.724,"y":0.56},{"s":"α=4°","f":"P","x":0.741,"y":0.46},{"s":"α=4°","f":"P","x":0.761,"y":0.43},{"s":"α=4°","f":"P","x":0.784,"y":0.45},{"s":"α=4°","f":"P","x":0.807,"y":0.46},{"s":"α=4°","f":"P","x":0.824,"y":0.51},{"s":"α=4°","f":"P","x":0.84,"y":0.59},{"s":"α=4°","f":"P","x":0.857,"y":0.72},{"s":"α=4°","f":"P","x":0.877,"y":0.9},{"s":"α=4°","f":"P","x":0.894,"y":1.14},{"s":"α=4°","f":"P","x":0.907,"y":1.43},{"s":"α=4°","f":"P","x":0.92,"y":1.66},{"s":"α=4°","f":"P","x":0.934,"y":1.92},{"s":"α=4°","f":"P","x":0.947,"y":2.37},{"s":"α=4°","f":"P","x":0.954,"y":2.92},{"s":"α=4°","f":"P","x":0.96,"y":4.05},{"s":"α=4°","f":"P","x":0.967,"y":5.3}
],
"b":[
{"s":"α=−1°","f":"S","x":0.008,"y":72},{"s":"α=−1°","f":"S","x":0.014,"y":45},{"s":"α=−1°","f":"S","x":0.017,"y":26.2},{"s":"α=−1°","f":"S","x":0.023,"y":26.1},{"s":"α=−1°","f":"S","x":0.038,"y":25.5},{"s":"α=−1°","f":"S","x":0.05,"y":24.9},{"s":"α=−1°","f":"S","x":0.062,"y":24.6},{"s":"α=−1°","f":"S","x":0.075,"y":25.5},{"s":"α=−1°","f":"S","x":0.09,"y":26.4},{"s":"α=−1°","f":"S","x":0.108,"y":26.6},{"s":"α=−1°","f":"S","x":0.126,"y":25.5},{"s":"α=−1°","f":"S","x":0.144,"y":22.8},{"s":"α=−1°","f":"S","x":0.163,"y":19.2},{"s":"α=−1°","f":"S","x":0.178,"y":16.0},{"s":"α=−1°","f":"S","x":0.193,"y":13.7},{"s":"α=−1°","f":"S","x":0.211,"y":11.9},{"s":"α=−1°","f":"S","x":0.233,"y":10.8},{"s":"α=−1°","f":"S","x":0.257,"y":10.6},{"s":"α=−1°","f":"S","x":0.278,"y":10.9},{"s":"α=−1°","f":"S","x":0.303,"y":11.4},{"s":"α=−1°","f":"S","x":0.324,"y":11.5},{"s":"α=−1°","f":"S","x":0.345,"y":11.2},{"s":"α=−1°","f":"S","x":0.363,"y":10.6},{"s":"α=−1°","f":"S","x":0.388,"y":9.4},{"s":"α=−1°","f":"S","x":0.412,"y":8.3},{"s":"α=−1°","f":"S","x":0.436,"y":7.6},{"s":"α=−1°","f":"S","x":0.468,"y":7.0},{"s":"α=−1°","f":"S","x":0.502,"y":6.5},{"s":"α=−1°","f":"S","x":0.536,"y":6.3},{"s":"α=−1°","f":"S","x":0.588,"y":6.3},{"s":"α=−1°","f":"S","x":0.64,"y":6.7},{"s":"α=−1°","f":"S","x":0.691,"y":7.4},{"s":"α=−1°","f":"S","x":0.742,"y":8.3},{"s":"α=−1°","f":"S","x":0.777,"y":9.0},{"s":"α=−1°","f":"S","x":0.811,"y":9.4},{"s":"α=−1°","f":"S","x":0.846,"y":9.7},{"s":"α=−1°","f":"S","x":0.88,"y":9.7},{"s":"α=−1°","f":"S","x":0.904,"y":9.6},{"s":"α=−1°","f":"S","x":0.932,"y":8.7},{"s":"α=−1°","f":"S","x":0.962,"y":7.6},{"s":"α=−1°","f":"S","x":0.98,"y":5.1},{"s":"α=−1°","f":"S","x":0.987,"y":3.8},{"s":"α=−1°","f":"S","x":0.993,"y":3.2},{"s":"α=−1°","f":"S","x":0.996,"y":3.0},{"s":"α=−1°","f":"S","x":0.997,"y":72},
{"s":"α=−1°","f":"P","x":0.009,"y":72},{"s":"α=−1°","f":"P","x":0.015,"y":40},{"s":"α=−1°","f":"P","x":0.018,"y":20},{"s":"α=−1°","f":"P","x":0.02,"y":14.2},{"s":"α=−1°","f":"P","x":0.03,"y":18.9},{"s":"α=−1°","f":"P","x":0.046,"y":18.3},{"s":"α=−1°","f":"P","x":0.065,"y":13.3},{"s":"α=−1°","f":"P","x":0.088,"y":8.7},{"s":"α=−1°","f":"P","x":0.111,"y":6.3},{"s":"α=−1°","f":"P","x":0.132,"y":6.4},{"s":"α=−1°","f":"P","x":0.157,"y":6.3},{"s":"α=−1°","f":"P","x":0.175,"y":6.1},{"s":"α=−1°","f":"P","x":0.196,"y":6.5},{"s":"α=−1°","f":"P","x":0.217,"y":6.9},{"s":"α=−1°","f":"P","x":0.239,"y":7.2},{"s":"α=−1°","f":"P","x":0.26,"y":7.1},{"s":"α=−1°","f":"P","x":0.278,"y":6.7},{"s":"α=−1°","f":"P","x":0.303,"y":6.3},{"s":"α=−1°","f":"P","x":0.321,"y":6.0},{"s":"α=−1°","f":"P","x":0.357,"y":5.1},{"s":"α=−1°","f":"P","x":0.394,"y":4.6},{"s":"α=−1°","f":"P","x":0.436,"y":4.3},{"s":"α=−1°","f":"P","x":0.47,"y":4.2},{"s":"α=−1°","f":"P","x":0.536,"y":4.4},{"s":"α=−1°","f":"P","x":0.57,"y":4.1},{"s":"α=−1°","f":"P","x":0.622,"y":3.4},{"s":"α=−1°","f":"P","x":0.674,"y":2.6},{"s":"α=−1°","f":"P","x":0.725,"y":2.3},{"s":"α=−1°","f":"P","x":0.777,"y":2.3},{"s":"α=−1°","f":"P","x":0.846,"y":2.3},{"s":"α=−1°","f":"P","x":0.88,"y":2.5},{"s":"α=−1°","f":"P","x":0.904,"y":3.3},{"s":"α=−1°","f":"P","x":0.925,"y":5.1},{"s":"α=−1°","f":"P","x":0.942,"y":8.3},{"s":"α=−1°","f":"P","x":0.955,"y":13.3},{"s":"α=−1°","f":"P","x":0.964,"y":17.8},{"s":"α=−1°","f":"P","x":0.972,"y":19.2},{"s":"α=−1°","f":"P","x":0.976,"y":18.5},{"s":"α=−1°","f":"P","x":0.981,"y":13},{"s":"α=−1°","f":"P","x":0.985,"y":6},{"s":"α=−1°","f":"P","x":0.988,"y":3.2},{"s":"α=−1°","f":"P","x":0.99,"y":4},{"s":"α=−1°","f":"P","x":0.993,"y":72},
{"s":"α=−0.5°","f":"S","x":0.008,"y":72},{"s":"α=−0.5°","f":"S","x":0.013,"y":40},{"s":"α=−0.5°","f":"S","x":0.015,"y":28},{"s":"α=−0.5°","f":"S","x":0.022,"y":28.5},{"s":"α=−0.5°","f":"S","x":0.03,"y":27},{"s":"α=−0.5°","f":"S","x":0.045,"y":24.5},{"s":"α=−0.5°","f":"S","x":0.06,"y":21.4},{"s":"α=−0.5°","f":"S","x":0.07,"y":19.5},{"s":"α=−0.5°","f":"S","x":0.08,"y":18.7},{"s":"α=−0.5°","f":"S","x":0.095,"y":19.8},{"s":"α=−0.5°","f":"S","x":0.105,"y":21},{"s":"α=−0.5°","f":"S","x":0.12,"y":24},{"s":"α=−0.5°","f":"S","x":0.135,"y":28.5},{"s":"α=−0.5°","f":"S","x":0.15,"y":31.5},{"s":"α=−0.5°","f":"S","x":0.165,"y":33.9},{"s":"α=−0.5°","f":"S","x":0.178,"y":32.8},{"s":"α=−0.5°","f":"S","x":0.19,"y":30},{"s":"α=−0.5°","f":"S","x":0.205,"y":26},{"s":"α=−0.5°","f":"S","x":0.217,"y":22.3},{"s":"α=−0.5°","f":"S","x":0.23,"y":18.3},{"s":"α=−0.5°","f":"S","x":0.242,"y":14.6},{"s":"α=−0.5°","f":"S","x":0.251,"y":11.9},{"s":"α=−0.5°","f":"S","x":0.263,"y":9.7},{"s":"α=−0.5°","f":"S","x":0.281,"y":8.7},{"s":"α=−0.5°","f":"S","x":0.303,"y":9.2},{"s":"α=−0.5°","f":"S","x":0.327,"y":9.9},{"s":"α=−0.5°","f":"S","x":0.345,"y":10.1},{"s":"α=−0.5°","f":"S","x":0.363,"y":9.9},{"s":"α=−0.5°","f":"S","x":0.388,"y":9.0},{"s":"α=−0.5°","f":"S","x":0.412,"y":7.8},{"s":"α=−0.5°","f":"S","x":0.436,"y":7.25},{"s":"α=−0.5°","f":"S","x":0.468,"y":6.9},{"s":"α=−0.5°","f":"S","x":0.502,"y":6.4},{"s":"α=−0.5°","f":"S","x":0.571,"y":6.0},{"s":"α=−0.5°","f":"S","x":0.605,"y":6.0},{"s":"α=−0.5°","f":"S","x":0.64,"y":6.25},{"s":"α=−0.5°","f":"S","x":0.708,"y":7.0},{"s":"α=−0.5°","f":"S","x":0.777,"y":8.4},{"s":"α=−0.5°","f":"S","x":0.846,"y":9.2},{"s":"α=−0.5°","f":"S","x":0.88,"y":9.2},{"s":"α=−0.5°","f":"S","x":0.904,"y":9.0},{"s":"α=−0.5°","f":"S","x":0.932,"y":8.4},{"s":"α=−0.5°","f":"S","x":0.962,"y":7.2},{"s":"α=−0.5°","f":"S","x":0.98,"y":5.1},{"s":"α=−0.5°","f":"S","x":0.987,"y":3.8},{"s":"α=−0.5°","f":"S","x":0.993,"y":3.2},{"s":"α=−0.5°","f":"S","x":0.996,"y":3.0},{"s":"α=−0.5°","f":"S","x":0.997,"y":72},
{"s":"α=−0.5°","f":"P","x":0.009,"y":72},{"s":"α=−0.5°","f":"P","x":0.016,"y":30},{"s":"α=−0.5°","f":"P","x":0.02,"y":10.6},{"s":"α=−0.5°","f":"P","x":0.029,"y":13.7},{"s":"α=−0.5°","f":"P","x":0.047,"y":14.6},{"s":"α=−0.5°","f":"P","x":0.059,"y":12.8},{"s":"α=−0.5°","f":"P","x":0.075,"y":10.1},{"s":"α=−0.5°","f":"P","x":0.09,"y":7.8},{"s":"α=−0.5°","f":"P","x":0.108,"y":6.3},{"s":"α=−0.5°","f":"P","x":0.157,"y":6.1},{"s":"α=−0.5°","f":"P","x":0.181,"y":6.0},{"s":"α=−0.5°","f":"P","x":0.211,"y":6.5},{"s":"α=−0.5°","f":"P","x":0.239,"y":6.7},{"s":"α=−0.5°","f":"P","x":0.26,"y":6.6},{"s":"α=−0.5°","f":"P","x":0.303,"y":6.0},{"s":"α=−0.5°","f":"P","x":0.357,"y":4.9},{"s":"α=−0.5°","f":"P","x":0.394,"y":4.3},{"s":"α=−0.5°","f":"P","x":0.47,"y":4.1},{"s":"α=−0.5°","f":"P","x":0.536,"y":4.1},{"s":"α=−0.5°","f":"P","x":0.57,"y":3.8},{"s":"α=−0.5°","f":"P","x":0.622,"y":3.2},{"s":"α=−0.5°","f":"P","x":0.674,"y":2.6},{"s":"α=−0.5°","f":"P","x":0.725,"y":2.3},{"s":"α=−0.5°","f":"P","x":0.777,"y":2.3},{"s":"α=−0.5°","f":"P","x":0.846,"y":2.3},{"s":"α=−0.5°","f":"P","x":0.88,"y":2.5},{"s":"α=−0.5°","f":"P","x":0.904,"y":3.3},{"s":"α=−0.5°","f":"P","x":0.925,"y":5.1},{"s":"α=−0.5°","f":"P","x":0.942,"y":8.3},{"s":"α=−0.5°","f":"P","x":0.955,"y":13.3},{"s":"α=−0.5°","f":"P","x":0.964,"y":17.8},{"s":"α=−0.5°","f":"P","x":0.972,"y":19.0},{"s":"α=−0.5°","f":"P","x":0.976,"y":18.3},{"s":"α=−0.5°","f":"P","x":0.981,"y":13},{"s":"α=−0.5°","f":"P","x":0.985,"y":6},{"s":"α=−0.5°","f":"P","x":0.988,"y":3.2},{"s":"α=−0.5°","f":"P","x":0.99,"y":4},{"s":"α=−0.5°","f":"P","x":0.993,"y":72},
{"s":"α=0°","f":"S","x":0.007,"y":72},{"s":"α=0°","f":"S","x":0.013,"y":45},{"s":"α=0°","f":"S","x":0.02,"y":32.1},{"s":"α=0°","f":"S","x":0.028,"y":31.6},{"s":"α=0°","f":"S","x":0.038,"y":29.6},{"s":"α=0°","f":"S","x":0.05,"y":25},{"s":"α=0°","f":"S","x":0.062,"y":21},{"s":"α=0°","f":"S","x":0.075,"y":18.3},{"s":"α=0°","f":"S","x":0.087,"y":16.4},{"s":"α=0°","f":"S","x":0.099,"y":17.4},{"s":"α=0°","f":"S","x":0.108,"y":18.3},{"s":"α=0°","f":"S","x":0.12,"y":21.4},{"s":"α=0°","f":"S","x":0.129,"y":25.5},{"s":"α=0°","f":"S","x":0.141,"y":34.1},{"s":"α=0°","f":"S","x":0.157,"y":42.3},{"s":"α=0°","f":"S","x":0.17,"y":45.4},{"s":"α=0°","f":"S","x":0.181,"y":43.6},{"s":"α=0°","f":"S","x":0.193,"y":42.3},{"s":"α=0°","f":"S","x":0.205,"y":36.4},{"s":"α=0°","f":"S","x":0.217,"y":30.5},{"s":"α=0°","f":"S","x":0.23,"y":23.7},{"s":"α=0°","f":"S","x":0.242,"y":18.3},{"s":"α=0°","f":"S","x":0.254,"y":11.9},{"s":"α=0°","f":"S","x":0.26,"y":9.7},{"s":"α=0°","f":"S","x":0.272,"y":8.2},{"s":"α=0°","f":"S","x":0.285,"y":7.2},{"s":"α=0°","f":"S","x":0.303,"y":7.4},{"s":"α=0°","f":"S","x":0.321,"y":7.8},{"s":"α=0°","f":"S","x":0.348,"y":9.2},{"s":"α=0°","f":"S","x":0.363,"y":9.4},{"s":"α=0°","f":"S","x":0.388,"y":8.7},{"s":"α=0°","f":"S","x":0.412,"y":7.8},{"s":"α=0°","f":"S","x":0.436,"y":7.0},{"s":"α=0°","f":"S","x":0.468,"y":6.7},{"s":"α=0°","f":"S","x":0.502,"y":6.1},{"s":"α=0°","f":"S","x":0.571,"y":5.8},{"s":"α=0°","f":"S","x":0.64,"y":5.8},{"s":"α=0°","f":"S","x":0.708,"y":6.7},{"s":"α=0°","f":"S","x":0.777,"y":7.9},{"s":"α=0°","f":"S","x":0.846,"y":8.7},{"s":"α=0°","f":"S","x":0.88,"y":8.7},{"s":"α=0°","f":"S","x":0.904,"y":8.4},{"s":"α=0°","f":"S","x":0.932,"y":7.8},{"s":"α=0°","f":"S","x":0.962,"y":6.7},{"s":"α=0°","f":"S","x":0.98,"y":4.7},{"s":"α=0°","f":"S","x":0.987,"y":3.6},{"s":"α=0°","f":"S","x":0.993,"y":3.1},{"s":"α=0°","f":"S","x":0.996,"y":3.0},{"s":"α=0°","f":"S","x":0.997,"y":72},
{"s":"α=0°","f":"P","x":0.008,"y":72},{"s":"α=0°","f":"P","x":0.015,"y":30},{"s":"α=0°","f":"P","x":0.02,"y":11.5},{"s":"α=0°","f":"P","x":0.029,"y":9.9},{"s":"α=0°","f":"P","x":0.043,"y":11.2},{"s":"α=0°","f":"P","x":0.052,"y":11.5},{"s":"α=0°","f":"P","x":0.065,"y":9.7},{"s":"α=0°","f":"P","x":0.084,"y":7.2},{"s":"α=0°","f":"P","x":0.105,"y":6.0},{"s":"α=0°","f":"P","x":0.15,"y":6.0},{"s":"α=0°","f":"P","x":0.211,"y":6.3},{"s":"α=0°","f":"P","x":0.242,"y":6.5},{"s":"α=0°","f":"P","x":0.27,"y":6.4},{"s":"α=0°","f":"P","x":0.303,"y":5.8},{"s":"α=0°","f":"P","x":0.357,"y":4.7},{"s":"α=0°","f":"P","x":0.394,"y":4.1},{"s":"α=0°","f":"P","x":0.47,"y":4.0},{"s":"α=0°","f":"P","x":0.536,"y":4.0},{"s":"α=0°","f":"P","x":0.57,"y":3.7},{"s":"α=0°","f":"P","x":0.622,"y":3.1},{"s":"α=0°","f":"P","x":0.674,"y":2.6},{"s":"α=0°","f":"P","x":0.725,"y":2.3},{"s":"α=0°","f":"P","x":0.777,"y":2.3},{"s":"α=0°","f":"P","x":0.846,"y":2.3},{"s":"α=0°","f":"P","x":0.88,"y":2.5},{"s":"α=0°","f":"P","x":0.904,"y":3.3},{"s":"α=0°","f":"P","x":0.925,"y":5.1},{"s":"α=0°","f":"P","x":0.942,"y":8.3},{"s":"α=0°","f":"P","x":0.955,"y":13.3},{"s":"α=0°","f":"P","x":0.964,"y":17.6},{"s":"α=0°","f":"P","x":0.972,"y":18.9},{"s":"α=0°","f":"P","x":0.976,"y":18.2},{"s":"α=0°","f":"P","x":0.981,"y":13},{"s":"α=0°","f":"P","x":0.985,"y":6},{"s":"α=0°","f":"P","x":0.988,"y":3.2},{"s":"α=0°","f":"P","x":0.99,"y":4},{"s":"α=0°","f":"P","x":0.993,"y":72},
{"s":"α=0.5°","f":"S","x":0.006,"y":72},{"s":"α=0.5°","f":"S","x":0.012,"y":45},{"s":"α=0.5°","f":"S","x":0.017,"y":34.1},{"s":"α=0.5°","f":"S","x":0.029,"y":35.8},{"s":"α=0.5°","f":"S","x":0.038,"y":31.9},{"s":"α=0.5°","f":"S","x":0.05,"y":26.9},{"s":"α=0.5°","f":"S","x":0.062,"y":22.3},{"s":"α=0.5°","f":"S","x":0.075,"y":18.3},{"s":"α=0.5°","f":"S","x":0.087,"y":16.0},{"s":"α=0.5°","f":"S","x":0.099,"y":15.3},{"s":"α=0.5°","f":"S","x":0.108,"y":15.3},{"s":"α=0.5°","f":"S","x":0.12,"y":18.3},{"s":"α=0.5°","f":"S","x":0.132,"y":24.2},{"s":"α=0.5°","f":"S","x":0.144,"y":33.2},{"s":"α=0.5°","f":"S","x":0.157,"y":43.2},{"s":"α=0.5°","f":"S","x":0.169,"y":51.3},{"s":"α=0.5°","f":"S","x":0.175,"y":53.8},{"s":"α=0.5°","f":"S","x":0.193,"y":53.6},{"s":"α=0.5°","f":"S","x":0.205,"y":47.7},{"s":"α=0.5°","f":"S","x":0.217,"y":38.6},{"s":"α=0.5°","f":"S","x":0.23,"y":29.6},{"s":"α=0.5°","f":"S","x":0.242,"y":21.4},{"s":"α=0.5°","f":"S","x":0.254,"y":13.7},{"s":"α=0.5°","f":"S","x":0.263,"y":10.1},{"s":"α=0.5°","f":"S","x":0.272,"y":7.8},{"s":"α=0.5°","f":"S","x":0.281,"y":6.5},{"s":"α=0.5°","f":"S","x":0.297,"y":6.3},{"s":"α=0.5°","f":"S","x":0.312,"y":7.2},{"s":"α=0.5°","f":"S","x":0.327,"y":8.3},{"s":"α=0.5°","f":"S","x":0.342,"y":8.5},{"s":"α=0.5°","f":"S","x":0.363,"y":9.0},{"s":"α=0.5°","f":"S","x":0.388,"y":8.3},{"s":"α=0.5°","f":"S","x":0.412,"y":7.4},{"s":"α=0.5°","f":"S","x":0.436,"y":6.7},{"s":"α=0.5°","f":"S","x":0.468,"y":6.5},{"s":"α=0.5°","f":"S","x":0.502,"y":5.9},{"s":"α=0.5°","f":"S","x":0.571,"y":5.5},{"s":"α=0.5°","f":"S","x":0.64,"y":5.5},{"s":"α=0.5°","f":"S","x":0.708,"y":6.4},{"s":"α=0.5°","f":"S","x":0.777,"y":7.6},{"s":"α=0.5°","f":"S","x":0.846,"y":8.3},{"s":"α=0.5°","f":"S","x":0.88,"y":8.2},{"s":"α=0.5°","f":"S","x":0.904,"y":7.9},{"s":"α=0.5°","f":"S","x":0.932,"y":7.3},{"s":"α=0.5°","f":"S","x":0.962,"y":6.25},{"s":"α=0.5°","f":"S","x":0.98,"y":4.2},{"s":"α=0.5°","f":"S","x":0.987,"y":3.4},{"s":"α=0.5°","f":"S","x":0.993,"y":3.0},{"s":"α=0.5°","f":"S","x":0.996,"y":2.9},{"s":"α=0.5°","f":"S","x":0.997,"y":72},
{"s":"α=0.5°","f":"P","x":0.008,"y":72},{"s":"α=0.5°","f":"P","x":0.015,"y":35},{"s":"α=0.5°","f":"P","x":0.021,"y":15.1},{"s":"α=0.5°","f":"P","x":0.029,"y":7.8},{"s":"α=0.5°","f":"P","x":0.044,"y":9.4},{"s":"α=0.5°","f":"P","x":0.059,"y":8.3},{"s":"α=0.5°","f":"P","x":0.078,"y":6.5},{"s":"α=0.5°","f":"P","x":0.102,"y":5.8},{"s":"α=0.5°","f":"P","x":0.15,"y":5.8},{"s":"α=0.5°","f":"P","x":0.242,"y":6.0},{"s":"α=0.5°","f":"P","x":0.303,"y":5.6},{"s":"α=0.5°","f":"P","x":0.357,"y":4.4},{"s":"α=0.5°","f":"P","x":0.394,"y":3.95},{"s":"α=0.5°","f":"P","x":0.47,"y":3.85},{"s":"α=0.5°","f":"P","x":0.536,"y":3.85},{"s":"α=0.5°","f":"P","x":0.57,"y":3.6},{"s":"α=0.5°","f":"P","x":0.622,"y":3.0},{"s":"α=0.5°","f":"P","x":0.674,"y":2.6},{"s":"α=0.5°","f":"P","x":0.725,"y":2.3},{"s":"α=0.5°","f":"P","x":0.777,"y":2.3},{"s":"α=0.5°","f":"P","x":0.846,"y":2.3},{"s":"α=0.5°","f":"P","x":0.88,"y":2.5},{"s":"α=0.5°","f":"P","x":0.904,"y":3.3},{"s":"α=0.5°","f":"P","x":0.925,"y":5.1},{"s":"α=0.5°","f":"P","x":0.942,"y":8.3},{"s":"α=0.5°","f":"P","x":0.955,"y":13.3},{"s":"α=0.5°","f":"P","x":0.964,"y":17.5},{"s":"α=0.5°","f":"P","x":0.972,"y":18.7},{"s":"α=0.5°","f":"P","x":0.976,"y":18.0},{"s":"α=0.5°","f":"P","x":0.981,"y":13},{"s":"α=0.5°","f":"P","x":0.985,"y":6},{"s":"α=0.5°","f":"P","x":0.988,"y":3.2},{"s":"α=0.5°","f":"P","x":0.99,"y":4},{"s":"α=0.5°","f":"P","x":0.993,"y":72},
{"s":"α=1°","f":"S","x":0.005,"y":72},{"s":"α=1°","f":"S","x":0.012,"y":50},{"s":"α=1°","f":"S","x":0.018,"y":36.8},{"s":"α=1°","f":"S","x":0.029,"y":38.9},{"s":"α=1°","f":"S","x":0.038,"y":34.6},{"s":"α=1°","f":"S","x":0.05,"y":29.6},{"s":"α=1°","f":"S","x":0.062,"y":24.6},{"s":"α=1°","f":"S","x":0.075,"y":20.1},{"s":"α=1°","f":"S","x":0.087,"y":16.2},{"s":"α=1°","f":"S","x":0.099,"y":14.4},{"s":"α=1°","f":"S","x":0.108,"y":14.2},{"s":"α=1°","f":"S","x":0.12,"y":16.0},{"s":"α=1°","f":"S","x":0.129,"y":19.2},{"s":"α=1°","f":"S","x":0.141,"y":28.7},{"s":"α=1°","f":"S","x":0.154,"y":38.6},{"s":"α=1°","f":"S","x":0.164,"y":50.0},{"s":"α=1°","f":"S","x":0.172,"y":58.1},{"s":"α=1°","f":"S","x":0.181,"y":59.5},{"s":"α=1°","f":"S","x":0.193,"y":62.7},{"s":"α=1°","f":"S","x":0.199,"y":61.3},{"s":"α=1°","f":"S","x":0.211,"y":53.6},{"s":"α=1°","f":"S","x":0.224,"y":43.2},{"s":"α=1°","f":"S","x":0.236,"y":31.9},{"s":"α=1°","f":"S","x":0.248,"y":22.8},{"s":"α=1°","f":"S","x":0.26,"y":16.0},{"s":"α=1°","f":"S","x":0.269,"y":9.7},{"s":"α=1°","f":"S","x":0.275,"y":6.0},{"s":"α=1°","f":"S","x":0.29,"y":5.6},{"s":"α=1°","f":"S","x":0.306,"y":5.1},{"s":"α=1°","f":"S","x":0.321,"y":6.3},{"s":"α=1°","f":"S","x":0.333,"y":7.4},{"s":"α=1°","f":"S","x":0.351,"y":8.3},{"s":"α=1°","f":"S","x":0.363,"y":8.5},{"s":"α=1°","f":"S","x":0.388,"y":8.1},{"s":"α=1°","f":"S","x":0.412,"y":7.2},{"s":"α=1°","f":"S","x":0.436,"y":6.5},{"s":"α=1°","f":"S","x":0.468,"y":6.25},{"s":"α=1°","f":"S","x":0.502,"y":5.7},{"s":"α=1°","f":"S","x":0.571,"y":5.1},{"s":"α=1°","f":"S","x":0.64,"y":5.1},{"s":"α=1°","f":"S","x":0.708,"y":6.0},{"s":"α=1°","f":"S","x":0.777,"y":7.3},{"s":"α=1°","f":"S","x":0.846,"y":7.8},{"s":"α=1°","f":"S","x":0.88,"y":7.7},{"s":"α=1°","f":"S","x":0.904,"y":7.4},{"s":"α=1°","f":"S","x":0.932,"y":6.8},{"s":"α=1°","f":"S","x":0.962,"y":5.8},{"s":"α=1°","f":"S","x":0.98,"y":3.8},{"s":"α=1°","f":"S","x":0.987,"y":3.2},{"s":"α=1°","f":"S","x":0.993,"y":2.9},{"s":"α=1°","f":"S","x":0.996,"y":2.8},{"s":"α=1°","f":"S","x":0.997,"y":72},
{"s":"α=1°","f":"P","x":0.007,"y":72},{"s":"α=1°","f":"P","x":0.014,"y":40},{"s":"α=1°","f":"P","x":0.022,"y":10},{"s":"α=1°","f":"P","x":0.029,"y":6.9},{"s":"α=1°","f":"P","x":0.044,"y":7.8},{"s":"α=1°","f":"P","x":0.059,"y":7.2},{"s":"α=1°","f":"P","x":0.084,"y":5.6},{"s":"α=1°","f":"P","x":0.105,"y":5.3},{"s":"α=1°","f":"P","x":0.15,"y":5.3},{"s":"α=1°","f":"P","x":0.242,"y":5.7},{"s":"α=1°","f":"P","x":0.303,"y":5.3},{"s":"α=1°","f":"P","x":0.357,"y":4.2},{"s":"α=1°","f":"P","x":0.394,"y":3.8},{"s":"α=1°","f":"P","x":0.47,"y":3.7},{"s":"α=1°","f":"P","x":0.536,"y":3.7},{"s":"α=1°","f":"P","x":0.57,"y":3.5},{"s":"α=1°","f":"P","x":0.622,"y":2.9},{"s":"α=1°","f":"P","x":0.674,"y":2.6},{"s":"α=1°","f":"P","x":0.725,"y":2.3},{"s":"α=1°","f":"P","x":0.777,"y":2.3},{"s":"α=1°","f":"P","x":0.846,"y":2.3},{"s":"α=1°","f":"P","x":0.88,"y":2.5},{"s":"α=1°","f":"P","x":0.904,"y":3.3},{"s":"α=1°","f":"P","x":0.925,"y":5.1},{"s":"α=1°","f":"P","x":0.942,"y":8.3},{"s":"α=1°","f":"P","x":0.955,"y":13.0},{"s":"α=1°","f":"P","x":0.964,"y":17.2},{"s":"α=1°","f":"P","x":0.972,"y":18.5},{"s":"α=1°","f":"P","x":0.976,"y":17.8},{"s":"α=1°","f":"P","x":0.981,"y":13},{"s":"α=1°","f":"P","x":0.985,"y":6},{"s":"α=1°","f":"P","x":0.988,"y":3.2},{"s":"α=1°","f":"P","x":0.99,"y":4},{"s":"α=1°","f":"P","x":0.993,"y":72}
]
},
"vconcat":[
{
 "width":1300,"height":1182,
 "title":{"text":"(a) sub_blade","offset":51},
 "resolve":{"axis":{"x":"independent","y":"independent"}},
 "layer":[
  {"data":{"name":"a"},
   "mark":{"type":"line","clip":true,"strokeWidth":3.5},
   "encoding":{
    "x":{"field":"x","type":"quantitative","scale":{"domain":[0,1],"nice":false,"zero":false},
         "axis":{"orient":"bottom","values":[0,0.2,0.4,0.6,0.8,1],"labelExpr":"datum.value == 0 ? '0' : format(datum.value, '.1f')","tickSize":-27,"labelPadding":49,"title":"相对弦长","titlePadding":44}},
    "y":{"field":"y","type":"quantitative","scale":{"domain":[0,5],"nice":false,"zero":false},
         "axis":{"orient":"left","values":[1,2,3,4,5],"tickSize":-27,"labelPadding":53,"title":"等熵马赫数梯度","titlePadding":55}},
    "color":{"field":"s","type":"nominal","scale":{"domain":["α=0°","α=1°","α=2°","α=3°","α=4°"],"range":["#000000","#22c422","#3333ee","#cc0000","#ff8800"]},
       "legend":{"title":null,"orient":"none","legendX":715,"legendY":37,"symbolType":"stroke","symbolSize":81225,"symbolStrokeWidth":4.5,"clipHeight":50,"rowPadding":25,"padding":0,"labelFont":"Liberation Serif","labelFontSize":64,"labelColor":"black","labelOffset":28,"labelLimit":0}},
    "strokeDash":{"field":"s","type":"nominal","scale":{"domain":["α=0°","α=1°","α=2°","α=3°","α=4°"],"range":[[1,0],[30,29],[29,12,7,11],[45,14],[29,8,4,7,4,7]]},
       "legend":{"title":null,"orient":"none","legendX":715,"legendY":37,"symbolType":"stroke","symbolSize":81225,"symbolStrokeWidth":4.5,"clipHeight":50,"rowPadding":25,"padding":0,"labelFont":"Liberation Serif","labelFontSize":64,"labelColor":"black","labelOffset":28,"labelLimit":0}},
    "detail":{"field":"f"}
   }},
  {"data":{"values":[{"x":0.434,"x2":0.857,"y":1.5,"y2":3.06}]},
   "mark":{"type":"rect","fill":null,"fillOpacity":0,"stroke":"#ff0000","strokeWidth":7,"strokeDash":[30,26]},
   "encoding":{
    "x":{"field":"x","type":"quantitative","scale":{"domain":[0,1],"nice":false,"zero":false},
         "axis":{"orient":"bottom","values":[0.04,0.08,0.12,0.16,0.24,0.28,0.32,0.36,0.44,0.48,0.52,0.56,0.64,0.68,0.72,0.76,0.84,0.88,0.92,0.96],"tickSize":-14,"labels":false,"title":null}},
    "x2":{"field":"x2"},
    "y":{"field":"y","type":"quantitative","scale":{"domain":[0,5],"nice":false,"zero":false},
         "axis":{"orient":"left","values":[0.2,0.4,0.6,0.8,1.2,1.4,1.6,1.8,2.2,2.4,2.6,2.8,3.2,3.4,3.6,3.8,4.2,4.4,4.6,4.8],"tickSize":-14,"labels":false,"title":null}},
    "y2":{"field":"y2"}
   }},
  {"data":{"values":[{"x":0.2916,"y":3.854,"x2":0.356,"y2":3.222},{"x":0.1615,"y":0.769,"x2":0.2741,"y2":1.206}]},
   "mark":{"type":"rule","color":"#7030a0","strokeWidth":4},
   "encoding":{"x":{"field":"x","type":"quantitative","axis":null},"y":{"field":"y","type":"quantitative","axis":null},"x2":{"field":"x2"},"y2":{"field":"y2"}}},
  {"data":{"values":[{"x":0.356,"y":3.222}]},
   "mark":{"type":"point","shape":"M0,-1L0.75,1L-0.75,1Z","filled":true,"color":"#7030a0","opacity":1,"size":1600,"angle":151},
   "encoding":{"x":{"field":"x","type":"quantitative","axis":null},"y":{"field":"y","type":"quantitative","axis":null}}},
  {"data":{"values":[{"x":0.2741,"y":1.206}]},
   "mark":{"type":"point","shape":"M0,-1L0.75,1L-0.75,1Z","filled":true,"color":"#7030a0","opacity":1,"size":1600,"angle":55},
   "encoding":{"x":{"field":"x","type":"quantitative","axis":null},"y":{"field":"y","type":"quantitative","axis":null}}},
  {"data":{"values":[{"t":"吸力面","x":0.282,"y":4.08},{"t":"压力面","x":0.157,"y":0.576}]},
   "mark":{"type":"text","font":"Noto Sans CJK SC","fontSize":62,"color":"black","align":"center","baseline":"middle"},
   "encoding":{"x":{"field":"x","type":"quantitative","axis":null},"y":{"field":"y","type":"quantitative","axis":null},"text":{"field":"t"}}}
 ]
},
{
 "width":1300,"height":1182,
 "title":{"text":"(b) tran_blade","offset":42},
 "resolve":{"axis":{"x":"independent","y":"independent"}},
 "layer":[
  {"data":{"name":"b"},
   "mark":{"type":"line","clip":true,"strokeWidth":3.5},
   "encoding":{
    "x":{"field":"x","type":"quantitative","scale":{"domain":[0,1],"nice":false,"zero":false},
         "axis":{"orient":"bottom","values":[0,0.2,0.4,0.6,0.8,1],"labelExpr":"datum.value == 0 ? '0' : format(datum.value, '.1f')","tickSize":-27,"labelPadding":49,"title":"相对弦长","titlePadding":42}},
    "y":{"field":"y","type":"quantitative","scale":{"domain":[0,70],"nice":false,"zero":false},
         "axis":{"orient":"left","values":[10,20,30,40,50,60,70],"tickSize":-27,"labelPadding":53,"title":"等熵马赫数梯度","titlePadding":55}},
    "color":{"field":"s","type":"nominal","scale":{"domain":["α=−1°","α=−0.5°","α=0°","α=0.5°","α=1°"],"range":["#000000","#22c422","#3333ee","#cc0000","#ff8800"]},
       "legend":{"title":null,"orient":"none","legendX":715,"legendY":76,"symbolType":"stroke","symbolSize":81225,"symbolStrokeWidth":4.5,"clipHeight":50,"rowPadding":25,"padding":0,"labelFont":"Liberation Serif","labelFontSize":64,"labelColor":"black","labelOffset":28,"labelLimit":0}},
    "strokeDash":{"field":"s","type":"nominal","scale":{"domain":["α=−1°","α=−0.5°","α=0°","α=0.5°","α=1°"],"range":[[1,0],[30,29],[29,12,7,11],[45,14],[29,8,4,7,4,7]]},
       "legend":{"title":null,"orient":"none","legendX":715,"legendY":76,"symbolType":"stroke","symbolSize":81225,"symbolStrokeWidth":4.5,"clipHeight":50,"rowPadding":25,"padding":0,"labelFont":"Liberation Serif","labelFontSize":64,"labelColor":"black","labelOffset":28,"labelLimit":0}},
    "detail":{"field":"f"}
   }},
  {"data":{"values":[{"x":0.1,"x2":0.276,"y":10.9,"y2":64.2}]},
   "mark":{"type":"rect","fill":null,"fillOpacity":0,"stroke":"#ff0000","strokeWidth":7,"strokeDash":[30,26]},
   "encoding":{
    "x":{"field":"x","type":"quantitative","scale":{"domain":[0,1],"nice":false,"zero":false},
         "axis":{"orient":"bottom","values":[0.04,0.08,0.12,0.16,0.24,0.28,0.32,0.36,0.44,0.48,0.52,0.56,0.64,0.68,0.72,0.76,0.84,0.88,0.92,0.96],"tickSize":-14,"labels":false,"title":null}},
    "x2":{"field":"x2"},
    "y":{"field":"y","type":"quantitative","scale":{"domain":[0,70],"nice":false,"zero":false},
         "axis":{"orient":"left","values":[2,4,6,8,12,14,16,18,22,24,26,28,32,34,36,38,42,44,46,48,52,54,56,58,62,64,66,68],"tickSize":-14,"labels":false,"title":null}},
    "y2":{"field":"y2"}
   }},
  {"data":{"values":[{"x":0.4042,"y":20.64,"x2":0.3636,"y2":12.4},{"x":0.7442,"y":27.08,"x2":0.7729,"y2":5.15}]},
   "mark":{"type":"rule","color":"#7030a0","strokeWidth":4},
   "encoding":{"x":{"field":"x","type":"quantitative","axis":null},"y":{"field":"y","type":"quantitative","axis":null},"x2":{"field":"x2"},"y2":{"field":"y2"}}},
  {"data":{"values":[{"x":0.3636,"y":12.4}]},
   "mark":{"type":"point","shape":"M0,-1L0.75,1L-0.75,1Z","filled":true,"color":"#7030a0","opacity":1,"size":1600,"angle":201},
   "encoding":{"x":{"field":"x","type":"quantitative","axis":null},"y":{"field":"y","type":"quantitative","axis":null}}},
  {"data":{"values":[{"x":0.7729,"y":5.15}]},
   "mark":{"type":"point","shape":"M0,-1L0.75,1L-0.75,1Z","filled":true,"color":"#7030a0","opacity":1,"size":1600,"angle":174},
   "encoding":{"x":{"field":"x","type":"quantitative","axis":null},"y":{"field":"y","type":"quantitative","axis":null}}},
  {"data":{"values":[{"t":"吸力面","x":0.435,"y":24.2},{"t":"压力面","x":0.75,"y":31.2}]},
   "mark":{"type":"text","font":"Noto Sans CJK SC","fontSize":62,"color":"black","align":"center","baseline":"middle"},
   "encoding":{"x":{"field":"x","type":"quantitative","axis":null},"y":{"field":"y","type":"quantitative","axis":null},"text":{"field":"t"}}}
 ]
}
]
}
